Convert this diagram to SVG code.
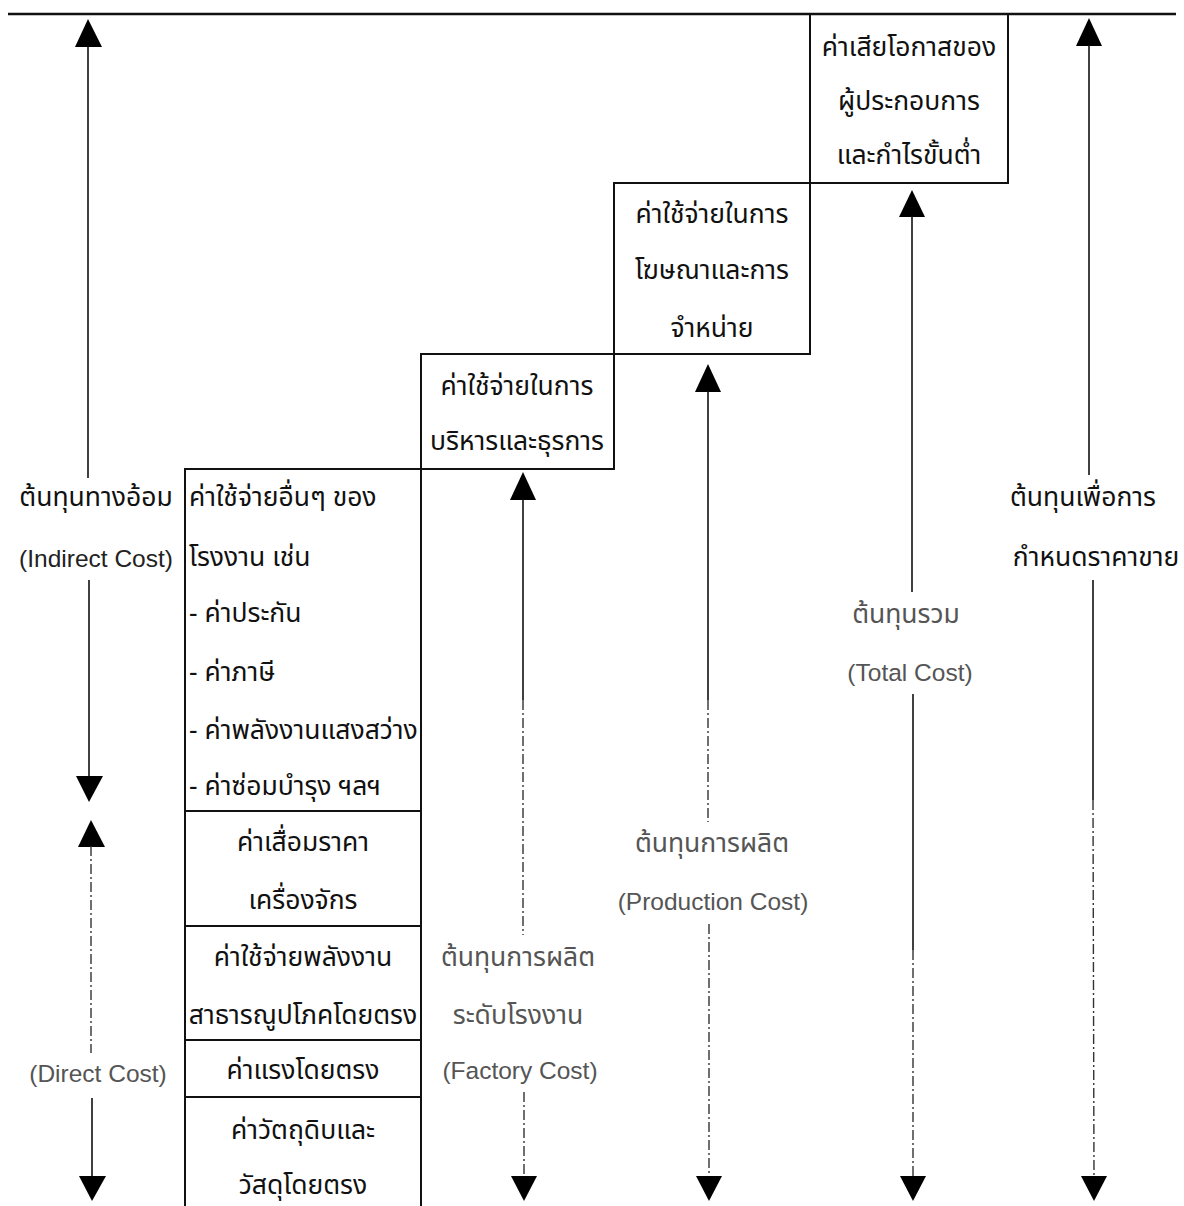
<svg xmlns="http://www.w3.org/2000/svg" width="1184" height="1206" viewBox="0 0 1184 1206">
<defs>
<style>
.th{font-family:"Noto Sans Thai","Noto Sans","DejaVu Sans",sans-serif;font-size:26.5px;fill:#111}
.en{font-family:"Liberation Sans",Arial,sans-serif;font-size:24.5px;fill:#222}
.fd{fill:#555}
.c{text-anchor:middle}
.box{fill:none;stroke:#111;stroke-width:2}
.ln{stroke:#111;stroke-width:1.6;fill:none}
.dl{stroke:#333;stroke-width:1.4;fill:none;stroke-dasharray:10 3 2 3}
.hd{fill:#000}
</style>
</defs>
<rect width="1184" height="1206" fill="#fff"/>
<line x1="8" y1="14" x2="1176" y2="14" stroke="#111" stroke-width="2.4"/>

<g id="node-opportunity">
<rect class="box" x="810" y="14" width="198" height="169"/>
<text class="th c" x="909" y="56">ค่าเสียโอกาสของ</text>
<text class="th c" x="909" y="110">ผู้ประกอบการ</text>
<text class="th c" x="909" y="164">และกำไรขั้นต่ำ</text>
</g>
<g id="node-selling">
<rect class="box" x="614" y="183" width="196" height="171"/>
<text class="th c" x="712" y="223">ค่าใช้จ่ายในการ</text>
<text class="th c" x="712" y="279">โฆษณาและการ</text>
<text class="th c" x="712" y="337">จำหน่าย</text>
</g>
<g id="node-admin">
<rect class="box" x="421" y="354" width="193" height="115"/>
<text class="th c" x="517" y="395">ค่าใช้จ่ายในการ</text>
<text class="th c" x="517" y="450">บริหารและธุรการ</text>
</g>
<g id="node-overhead">
<rect class="box" x="185" y="469" width="236" height="342"/>
<text class="th" x="189" y="506">ค่าใช้จ่ายอื่นๆ ของ</text>
<text class="th" x="189" y="566">โรงงาน เช่น</text>
<text class="th" x="189" y="622">- ค่าประกัน</text>
<text class="th" x="189" y="681">- ค่าภาษี</text>
<text class="th" x="189" y="739">- ค่าพลังงานแสงสว่าง</text>
<text class="th" x="189" y="795">- ค่าซ่อมบำรุง ฯลฯ</text>
</g>
<g id="node-depreciation">
<rect class="box" x="185" y="811" width="236" height="115"/>
<text class="th c" x="303" y="851">ค่าเสื่อมราคา</text>
<text class="th c" x="303" y="909">เครื่องจักร</text>
</g>
<g id="node-utilities">
<rect class="box" x="185" y="926" width="236" height="114"/>
<text class="th c" x="303" y="966">ค่าใช้จ่ายพลังงาน</text>
<text class="th c" x="303" y="1024">สาธารณูปโภคโดยตรง</text>
</g>
<g id="node-labour">
<rect class="box" x="185" y="1040" width="236" height="57"/>
<text class="th c" x="303" y="1079">ค่าแรงโดยตรง</text>
</g>
<g id="node-material">
<rect class="box" x="185" y="1097" width="236" height="112"/>
<text class="th c" x="303" y="1139">ค่าวัตถุดิบและ</text>
<text class="th c" x="303" y="1194">วัสดุโดยตรง</text>
</g>

<g id="labels">
<text class="th c" x="96" y="506">ต้นทุนทางอ้อม</text>
<text class="en c" x="96" y="567">(Indirect Cost)</text>
<text class="en c fd" x="98" y="1082">(Direct Cost)</text>
<text class="th c fd" x="518" y="966">ต้นทุนการผลิต</text>
<text class="th c fd" x="518" y="1024">ระดับโรงงาน</text>
<text class="en c fd" x="520" y="1079">(Factory Cost)</text>
<text class="th c fd" x="712" y="852">ต้นทุนการผลิต</text>
<text class="en c fd" x="713" y="910">(Production Cost)</text>
<text class="th c fd" x="906" y="623">ต้นทุนรวม</text>
<text class="en c fd" x="910" y="681">(Total Cost)</text>
<text class="th c" x="1083" y="506">ต้นทุนเพื่อการ</text>
<text class="th c" x="1096" y="566">กำหนดราคาขาย</text>
</g>

<g id="connectors">
<!-- indirect cost -->
<line class="ln" x1="88" y1="46" x2="88" y2="478"/>
<polygon class="hd" points="88,19 75,47 102,47"/>
<line class="ln" x1="89" y1="580" x2="89" y2="778"/>
<polygon class="hd" points="89,802 76,776 103,776"/>
<!-- direct cost -->
<polygon class="hd" points="91,820 78,847 105,847"/>
<line class="dl" x1="91" y1="846" x2="91" y2="1053"/>
<line class="ln" x1="92" y1="1098" x2="92" y2="1178"/>
<polygon class="hd" points="92,1201 79,1176 106,1176"/>
<!-- factory cost -->
<polygon class="hd" points="523,472 510,500 536,500"/>
<line class="ln" x1="523" y1="499" x2="523" y2="700"/>
<line class="dl" x1="523" y1="700" x2="523" y2="935"/>
<line class="dl" x1="524" y1="1092" x2="524" y2="1178"/>
<polygon class="hd" points="524,1201 511,1176 537,1176"/>
<!-- production cost -->
<polygon class="hd" points="708,364 695,392 721,392"/>
<line class="ln" x1="708" y1="391" x2="708" y2="700"/>
<line class="dl" x1="708" y1="700" x2="708" y2="822"/>
<line class="dl" x1="709" y1="924" x2="709" y2="1178"/>
<polygon class="hd" points="709,1201 696,1176 722,1176"/>
<!-- total cost -->
<polygon class="hd" points="912,190 899,217 925,217"/>
<line class="ln" x1="912" y1="216" x2="912" y2="592"/>
<line class="ln" x1="913" y1="694" x2="913" y2="950"/>
<line class="dl" x1="913" y1="950" x2="913" y2="1178"/>
<polygon class="hd" points="913,1201 900,1176 926,1176"/>
<!-- selling price cost -->
<polygon class="hd" points="1089,18 1076,46 1102,46"/>
<line class="ln" x1="1089" y1="45" x2="1089" y2="475"/>
<line class="ln" x1="1093" y1="580" x2="1093" y2="800"/>
<line class="dl" x1="1093" y1="800" x2="1094" y2="1178"/>
<polygon class="hd" points="1094,1201 1081,1176 1107,1176"/>
</g>
</svg>
